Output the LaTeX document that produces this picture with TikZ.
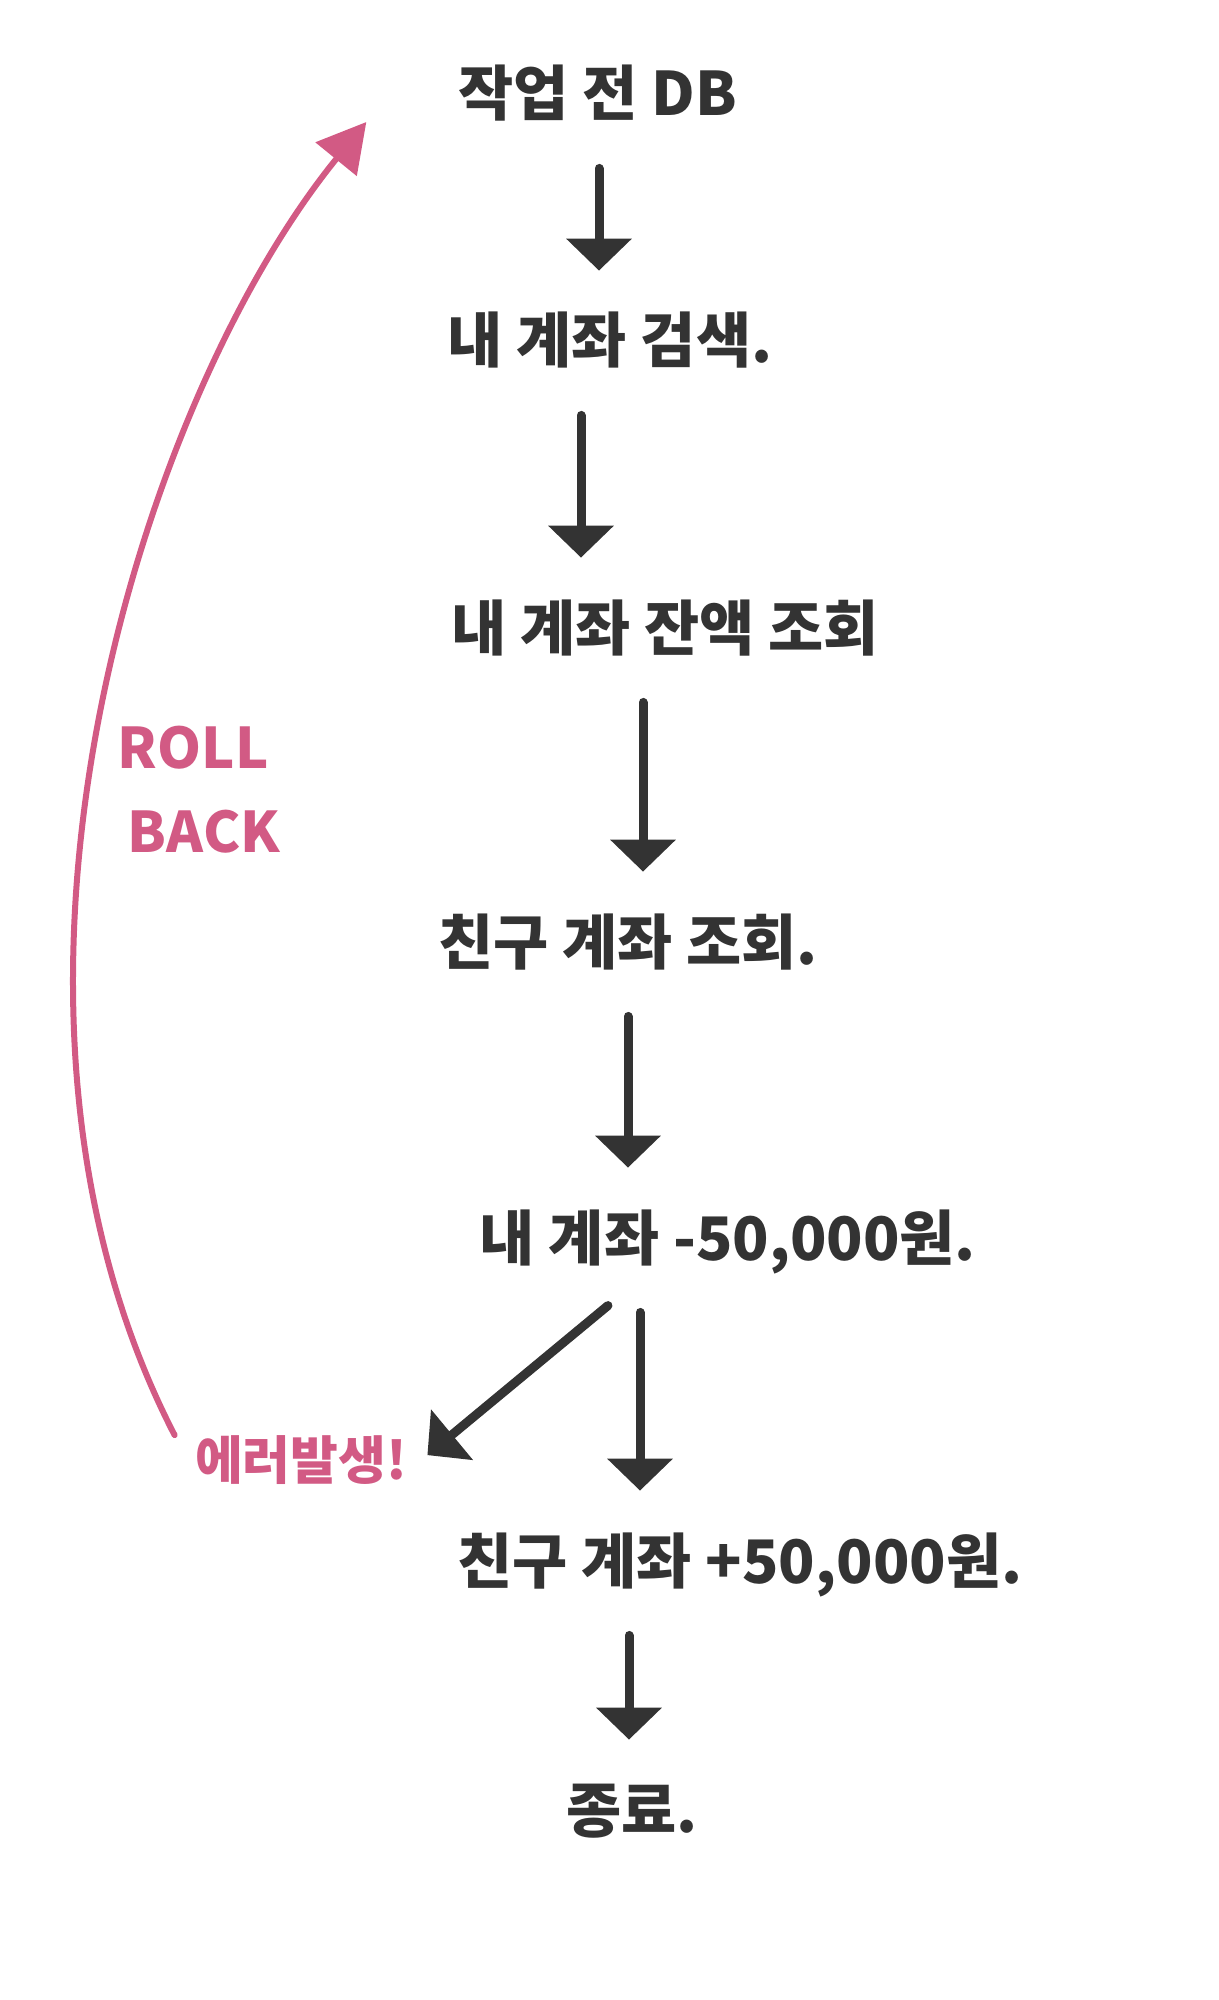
\documentclass[tikz,border=0pt]{standalone}
\usepackage{fontspec}
\setmainfont{Noto Sans CJK KR}
\usetikzlibrary{
    positioning,
    arrows.meta
}
\definecolor{pen}{HTML}{333333}
\definecolor{marker}{HTML}{D25A84}
\tikzset{
    >=Stealth,
    writing/.style={
        text=pen,
        font=\fontsize{30}{36}\selectfont\bfseries,
        inner sep=0pt,
        text height=24pt,
        text depth=6pt
    },
    redwriting/.style={
        text=marker,
        font=\fontsize{26}{32}\selectfont\bfseries,
        inner sep=0pt
    },
    flow/.style={
        draw=pen,
        line width=4.5pt,
        line cap=round,
        line join=round,
        -{Triangle[length=16pt,width=32pt]},
        shorten <=20pt,
        shorten >=22pt
    },
    rollback/.style={
        draw=marker,
        line width=3pt,
        line cap=round,
        -{Triangle[length=24pt,width=26pt]}
    }
}

\begin{document}
\begin{tikzpicture}[
    x=0.5pt,
    y=-0.5pt
]
    \useasboundingbox (0,0) rectangle (1219,2000);

    % 단계
    \node[writing] (db)      at (598,98)   {작업 전 DB};
    \node[writing] (search)  at (610,345)  {내 계좌 검색.};
    \node[writing] (balance) at (665,632)  {내 계좌 잔액 조회};
    \node[writing] (friend)  at (628,946)  {친구 계좌 조회.};
    \node[writing] (minus)   at (728,1242) {내 계좌 -50,000원.};
    \node[writing] (plus)    at (740,1565) {친구 계좌 +50,000원.};
    \node[writing] (done)    at (632,1814) {종료.};

    % 에러
    \node[redwriting] (error) at (301,1460) {에러발생!};
    \node[redwriting, font=\fontsize{28}{42}\selectfont\bfseries, align=left]
        (rb) at (199,790) {ROLL\\\hspace{5pt}BACK};
    \coordinate (back) at ([xshift=-46pt,yshift=-12pt]db.west);

    % 화살표
    \draw[flow] ([xshift=0.5pt]db.south)
        -- ([xshift=0.5pt]db.south |- search.north);
    \draw[flow] ([xshift=-14.5pt]search.south)
        -- ([xshift=-14.5pt]search.south |- balance.north);
    \draw[flow] ([xshift=-11pt]balance.south)
        -- ([xshift=-11pt]balance.south |- friend.north);
    \draw[flow] (friend.south)
        -- (friend.south |- minus.north);
    \draw[flow] ([xshift=-44pt]minus.south)
        -- ([xshift=-44pt]minus.south |- plus.north);
    \draw[flow] ([xshift=-55.5pt]plus.south)
        -- ([xshift=-55.5pt]plus.south |- done.north);
    \draw[flow, shorten <=26pt, shorten >=0pt] ([xshift=-40pt]minus.south)
        -- ([xshift=10pt,yshift=-10pt]error.north east);

    % 롤백
    \draw[rollback] ([xshift=-10pt]error.north west)
        .. controls (-50,1000) and (140,400) .. (back);

\end{tikzpicture}
\end{document}
